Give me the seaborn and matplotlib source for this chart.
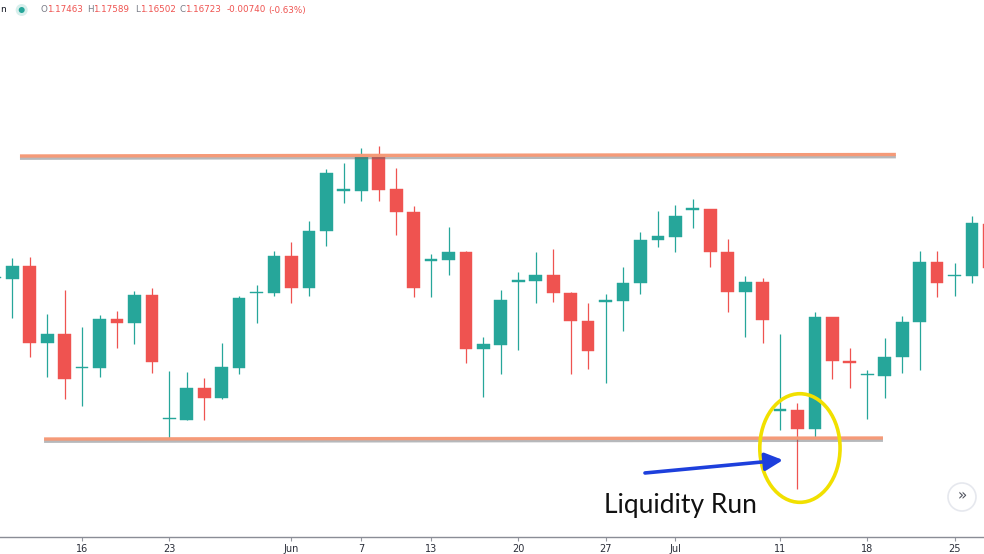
import numpy as np
import pandas as pd
import seaborn as sns
import matplotlib
matplotlib.use("Agg")
import matplotlib.pyplot as plt
from matplotlib.patches import Ellipse, Circle
from matplotlib.transforms import IdentityTransform
import matplotlib.patheffects as pe

# ---------------- data (daily candles) ----------------
candle_index = list(range(-1, 57))
opens = [1.16556, 1.16539, 1.16756, 1.15472, 1.15622, 1.15056, 1.15056, 1.15872, 1.15806, 1.16272,
         1.14206, 1.14189, 1.14722, 1.14556, 1.15056, 1.16306, 1.16306, 1.16922, 1.16389, 1.17339,
         1.18014, 1.18006, 1.18589, 1.18039, 1.17656, 1.16847, 1.16856, 1.16989, 1.15372, 1.15439,
         1.16497, 1.16506, 1.16606, 1.16306, 1.15839, 1.16164, 1.16172, 1.16472, 1.17189, 1.17239,
         1.17697, 1.17706, 1.16989, 1.16322, 1.16489, 1.14347, 1.14356, 1.14039, 1.15906, 1.15172,
         1.14931, 1.14922, 1.15239, 1.15822, 1.16822, 1.16581, 1.16589, 1.17463]
highs = [1.16689, 1.16889, 1.16906, 1.15956, 1.16356, 1.15739, 1.15939, 1.16006, 1.16339, 1.16389,
         1.15006, 1.14989, 1.14889, 1.15472, 1.16256, 1.16439, 1.17006, 1.17156, 1.17506, 1.18372,
         1.18472, 1.18722, 1.18756, 1.18389, 1.17756, 1.16956, 1.17406, 1.17006, 1.15572, 1.16356,
         1.16656, 1.16989, 1.17039, 1.16322, 1.16139, 1.16289, 1.16739, 1.17322, 1.17672, 1.17772,
         1.17872, 1.17706, 1.17206, 1.16589, 1.16556, 1.15622, 1.14472, 1.15989, 1.15906, 1.15389,
         1.15022, 1.15556, 1.15922, 1.17006, 1.17006, 1.16806, 1.17589, 1.17589]
lows = [1.16322, 1.15889, 1.15239, 1.14906, 1.14539, 1.14422, 1.14906, 1.15389, 1.15456, 1.14972,
        1.13889, 1.14189, 1.14189, 1.14539, 1.14956, 1.15806, 1.16256, 1.16139, 1.16256, 1.17089,
        1.17806, 1.17839, 1.17839, 1.17272, 1.16239, 1.16239, 1.16606, 1.15139, 1.14572, 1.14956,
        1.15356, 1.16139, 1.16156, 1.14956, 1.15039, 1.14806, 1.15672, 1.16289, 1.17072, 1.16989,
        1.17389, 1.16739, 1.15989, 1.15572, 1.15472, 1.14022, 1.13039, 1.13906, 1.14872, 1.14722,
        1.14206, 1.14556, 1.14972, 1.15022, 1.16239, 1.16256, 1.16472, 1.16502]
closes = [1.16556, 1.16756, 1.15472, 1.15622, 1.14872, 1.15072, 1.15872, 1.15806, 1.16272, 1.15156,
          1.14214, 1.14722, 1.14556, 1.15072, 1.16222, 1.16322, 1.16922, 1.16389, 1.17339, 1.18306,
          1.18022, 1.18589, 1.18022, 1.17656, 1.16389, 1.16856, 1.16989, 1.15372, 1.15456, 1.16189,
          1.16506, 1.16606, 1.16306, 1.15839, 1.15339, 1.16172, 1.16472, 1.17189, 1.17256, 1.17589,
          1.17706, 1.16989, 1.16322, 1.16489, 1.15856, 1.14356, 1.14039, 1.15906, 1.15172, 1.15139,
          1.14939, 1.15239, 1.15822, 1.16822, 1.16472, 1.16589, 1.17472, 1.16723]

tick_positions = [4, 9, 16, 20, 24, 29, 34, 38, 44, 49, 54]
tick_labels = ["16", "23", "Jun", "7", "13", "20", "27", "Jul", "11", "18", "25"]

# horizontal range lines (x index, price)
top_line_x = [0.44, 50.64]
top_line_y = [1.18589, 1.18614]
bottom_line_x = [1.82, 49.9]
bottom_line_y = [1.13872, 1.13889]

header_letters = ["O", "H", "L", "C"]
header_values = ["1.17463", "1.17589", "1.16502", "1.16723"]
header_change = ["-0.00740", "(-0.63%)"]
annotation_text = "Liquidity Run"

df = pd.DataFrame({"idx": candle_index, "open": opens, "high": highs,
                   "low": lows, "close": closes})

UP = "#26a69a"
DOWN = "#ef5350"

sns.set_theme(style="white")
plt.rcParams["font.family"] = ["DejaVu Sans"]

W, H = 984, 554
fig = plt.figure(figsize=(W / 100, H / 100), dpi=100)
fig.patch.set_facecolor("white")
ax = fig.add_axes([0, 17 / H, 1, 537 / H])
ax.set_facecolor("white")

up = df["close"] >= df["open"]
colors = np.where(up, UP, DOWN)

# wicks
ax.vlines(df["idx"], df["low"], df["high"], colors=colors, linewidth=0.9, zorder=2)
# bodies
body_bottom = np.minimum(df["open"], df["close"])
body_height = np.maximum(np.abs(df["close"] - df["open"]), 0.00018)
ax.bar(df["idx"], body_height, bottom=body_bottom, width=0.73, color=colors,
       edgecolor=colors, linewidth=0.3, zorder=3)

# range lines
line_fx = [pe.SimpleLineShadow(offset=(0, -1.6), shadow_color="#5f6368", alpha=0.45),
           pe.Normal()]
ax.plot(top_line_x, top_line_y, color="#f59a78", linewidth=2.4,
        solid_capstyle="butt", zorder=5, path_effects=line_fx)
ax.plot(bottom_line_x, bottom_line_y, color="#f59a78", linewidth=2.4,
        solid_capstyle="butt", zorder=5, path_effects=line_fx)

# yellow ellipse and blue arrow
ax.add_patch(Ellipse((45.14, 1.13722), width=4.6, height=0.0181, fill=False,
                     edgecolor="#f1e000", linewidth=2.6, zorder=6))
ax.annotate("", xy=(44.17, 1.13522), xytext=(36.26, 1.13306),
            arrowprops=dict(arrowstyle="-|>,head_length=0.9,head_width=0.45",
                            color="#1d3fdc", lw=2.6, shrinkA=0, shrinkB=0),
            zorder=7)
ax.text(38.32, 1.12756, annotation_text, ha="center", va="center",
        fontsize=19, color="#111111", family=["Lato", "DejaVu Sans"], zorder=7)

ax.set_xlim(-0.705, 55.69)
ax.set_ylim(1.12239, 1.21189)
ax.set_yticks([])
ax.set_xticks(tick_positions)
ax.set_xticklabels(tick_labels)
ax.tick_params(axis="x", length=3, width=0.8, color="#9598a1", labelsize=7,
               labelcolor="#2a2e39", pad=2, direction="out", bottom=True)
for s in ["top", "left", "right"]:
    ax.spines[s].set_visible(False)
ax.spines["bottom"].set_color("#8a8d96")
ax.spines["bottom"].set_linewidth(1.0)

# header legend
def ftxt(x, y, s, color, size=6.3):
    fig.text(x / W, 1 - y / H, s, color=color, fontsize=size, ha="left",
             va="center", family=["DejaVu Sans"])

ftxt(0, 10, "n", "#131722", 6.5)
fig.add_artist(Circle((21.7, H - 10), 6, transform=IdentityTransform(),
                      facecolor="#d7efec", edgecolor="none"))
fig.add_artist(Circle((21.7, H - 10), 3, transform=IdentityTransform(),
                      facecolor=UP, edgecolor="none"))
letter_x = [40.7, 87, 135, 180]
value_x = [47, 93, 140, 185]
for lx, vx, l, v in zip(letter_x, value_x, header_letters, header_values):
    ftxt(lx, 10, l, "#787b86")
    ftxt(vx, 10, v, DOWN)
ftxt(227, 10, header_change[0], DOWN)
ftxt(268, 10, header_change[1], DOWN)

# scroll button
fig.add_artist(Circle((962, H - 497), 14, transform=IdentityTransform(),
                      facecolor="white", edgecolor="#e6e8ee", linewidth=1.2))
fig.text(962 / W, 1 - 496 / H, "\u00bb", ha="center", va="center",
         fontsize=11, color="#50535e")

fig.savefig("out.png", dpi=100, facecolor="white")
